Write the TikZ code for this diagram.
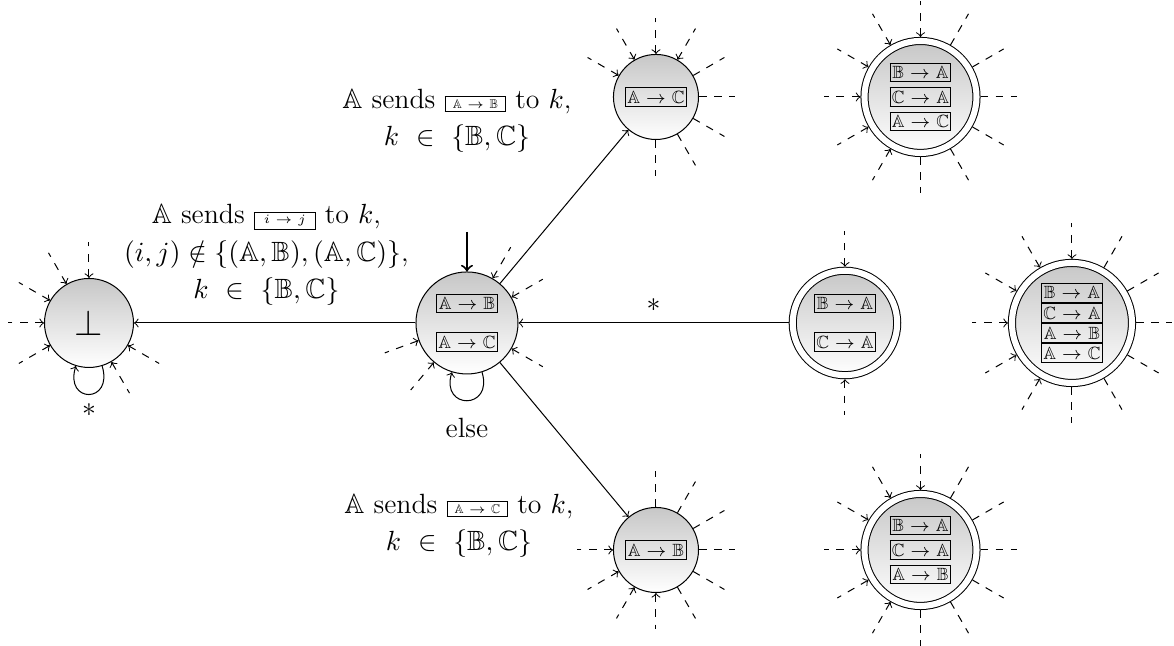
\documentclass[tikz,border=0pt]{standalone}
\usepackage{amsmath}
\usepackage{amssymb}
\usetikzlibrary{positioning}

\newcommand{\trbox}[2]{\hbox{\setlength{\fboxsep}{1pt}\fbox{\makebox[21.6pt]{\scriptsize$\mathbb{#1}\rightarrow\mathbb{#2}$}}}}
\newcommand{\trsmall}[2]{\hbox{\setlength{\fboxsep}{1pt}\fbox{\makebox[21.6pt]{\tiny$#1\rightarrow#2$}}}}
\newcommand{\trstack}[1]{\vbox{\offinterlineskip#1}}

\begin{document}
\begin{tikzpicture}[font=\fontsize{11}{14.8}\selectfont,
    state/.style={circle,draw,top color=black!22,bottom color=white,inner sep=0pt},
    final/.style={state,double,double distance=2.4pt,outer sep=1.6pt}]
    \useasboundingbox (0,0) rectangle (16.306,8.972);
    % states
    \node[state,minimum size=1.236cm] (bot) at (1.236,4.486) {\Large$\bot$};
    \node[state,minimum size=1.417cm] (q0) at (6.486,4.486)
      {\trstack{\trbox{A}{B}\vskip7.5pt\trbox{A}{C}}};
    \node[state,minimum size=1.181cm] (qAC) at (9.111,7.625) {\trbox{A}{C}};
    \node[state,minimum size=1.181cm] (qAB) at (9.111,1.333) {\trbox{A}{B}};
    \node[final,minimum size=1.556cm] (fAC) at (12.785,7.625)
      {\trstack{\trbox{B}{A}\vskip2pt\trbox{C}{A}\vskip2pt\trbox{A}{C}}};
    \node[final,minimum size=1.451cm] (fmid) at (11.736,4.486)
      {\trstack{\trbox{B}{A}\vskip7.5pt\trbox{C}{A}}};
    \node[final,minimum size=1.667cm] (fall) at (14.889,4.486)
      {\trstack{\trbox{B}{A}\vskip0.3pt\trbox{C}{A}\vskip0.3pt\trbox{A}{B}\vskip0.3pt\trbox{A}{C}}};
    \node[final,minimum size=1.556cm] (fAB) at (12.785,1.333)
      {\trstack{\trbox{B}{A}\vskip2pt\trbox{C}{A}\vskip2pt\trbox{A}{B}}};
    % transitions
    \coordinate[above=0.55cm of q0] (q0in);
    \draw[thick,->] (q0in) -- (q0);
    \draw[->] (q0) -- (bot);
    \draw[->] (q0) -- (qAC);
    \draw[->] (q0) -- (qAB);
    \draw[->] (fmid) -- node[above=1pt] {$*$} (q0);
    \draw[->] (bot.-73) .. controls +(-73:0.55) and +(-107:0.55) .. (bot.-107);
    \draw[->] (q0.-73) .. controls +(-73:0.55) and +(-107:0.55) .. (q0.-107);
    \node (botloop) at (1.236,3.278) {$*$};
    \node (q0loop) at (6.486,3.028) {else};
    % labels
    \node[align=center] (lAB) at (6.347,7.292)
      {$\mathbb{A}$ sends \trsmall{\mathbb{A}}{\mathbb{B}} to $k$,\\ $k\ \in\ \{\mathbb{B},\mathbb{C}\}$};
    \node[align=center] (lij) at (3.7,5.431)
      {$\mathbb{A}$ sends \trsmall{i}{j} to $k$,\\
       $(i,j)\notin\{(\mathbb{A},\mathbb{B}),(\mathbb{A},\mathbb{C})\}$,\\
       $k\ \in\ \{\mathbb{B},\mathbb{C}\}$};
    \node[align=center] (lAC) at (6.375,1.667)
      {$\mathbb{A}$ sends \trsmall{\mathbb{A}}{\mathbb{C}} to $k$,\\ $k\ \in\ \{\mathbb{B},\mathbb{C}\}$};
    % dashed stubs
    \foreach \a in {90,120,150,180,210,300,330}
      \draw[dashed,<-] (bot.\a) -- ++(\a:0.5);
    \foreach \a in {30,60,-30,200,230}
      \draw[dashed,<-] (q0.\a) -- ++(\a:0.5);
    \foreach \a in {60,90,120,150}
      \draw[dashed,<-] (qAC.\a) -- ++(\a:0.5);
    \foreach \a in {30,0,-30,-60,-90}
      \draw[dashed] (qAC.\a) -- ++(\a:0.5);
    \foreach \a in {180,210,240,270}
      \draw[dashed,<-] (qAB.\a) -- ++(\a:0.5);
    \foreach \a in {90,60,30,0,-30,-60}
      \draw[dashed] (qAB.\a) -- ++(\a:0.5);
    \foreach \a in {90,270}
      \draw[dashed,<-] (fmid.\a) -- ++(\a:0.5);
    \foreach \n in {fAC,fall,fAB}{
      \foreach \a in {90,120,...,240}
        \draw[dashed,<-] (\n.\a) -- ++(\a:0.5);
      \foreach \a in {-90,-60,...,60}
        \draw[dashed] (\n.\a) -- ++(\a:0.5);
    }
\end{tikzpicture}
\end{document}
